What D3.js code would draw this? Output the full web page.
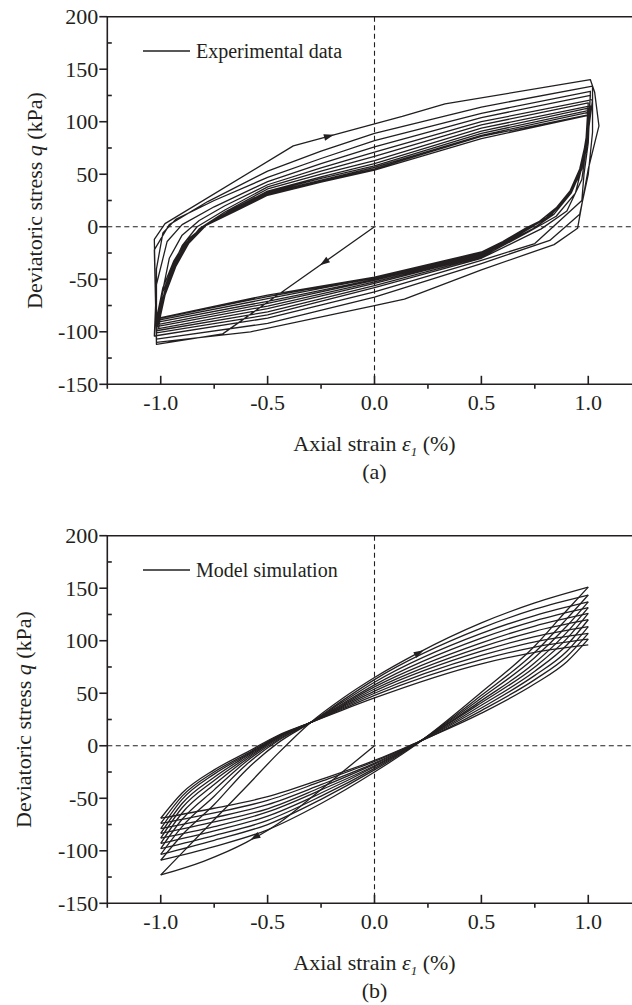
<!DOCTYPE html>
<html>
<head>
<meta charset="utf-8">
<script src="https://cdn.jsdelivr.net/npm/d3@7"></script>
<style>
  html, body { margin: 0; padding: 0; background: #ffffff; }
  svg { display: block; }
  text { font-family: "Liberation Serif", "Times New Roman", serif; fill: #231f20; }
</style>
</head>
<body>
<svg id="chart" width="632" height="1005"></svg>
<script>
// ---------------- data ----------------
const strainTicks = [-1.0, -0.5, 0.0, 0.5, 1.0];
const strainMinor = [-1.25, -0.75, -0.25, 0.25, 0.75, 1.25];
const stressTicks = [-150, -100, -50, 0, 50, 100, 150, 200];
const stressMinor = [-125, -75, -25, 25, 75, 125, 175];
const strainTickLabels = ["-1.0", "-0.5", "0.0", "0.5", "1.0"];
const stressTickLabels = ["-150", "-100", "-50", "0", "50", "100", "150", "200"];

// (a) experimental data: initial loading, then upper (loading) and lower (unloading) branches
const expInitial = [[0,0],[-0.71,-102],[-1.02,-112]];
const expUpper = [
  [[-1.02,-112],[-1.03,-12],[-0.98,3],[-0.38,77],[0,98],[0.13,105],[0.33,117],[1.01,140]],
  [[-1.02,-110],[-1.03,-22],[-0.96,2],[-0.78,24],[-0.5,53],[-0.25,72],[0,89],[0.5,114],[1.02,134]],
  [[-1.02,-107],[-1.02,-40],[-0.99,-6],[-0.93,7],[-0.75,25],[-0.5,47],[-0.25,65],[0,82],[0.5,108],[1.01,129]],
  [[-1.03,-104],[-1.02,-55],[-0.97,-14],[-0.9,2],[-0.75,19],[-0.5,43],[-0.25,60],[0,76],[0.5,104],[1.01,125]],
  [[-1.02,-101],[-1.0,-70],[-0.96,-30],[-0.9,-8],[-0.82,6],[-0.7,20],[-0.5,40],[-0.25,56],[0,71],[0.5,100],[1.02,121]],
  [[-1.02,-99],[-1.0,-75],[-0.95,-40],[-0.9,-18],[-0.83,0],[-0.7,16],[-0.5,38],[-0.25,53],[0,67],[0.5,97],[1.0,118]],
  [[-1.01,-97],[-0.99,-70],[-0.95,-45],[-0.9,-22],[-0.82,-2],[-0.7,14],[-0.5,36],[-0.25,50],[0,63],[0.5,94],[1.01,115]],
  [[-1.02,-95],[-0.99,-68],[-0.94,-40],[-0.88,-18],[-0.8,0],[-0.68,15],[-0.5,34],[-0.25,47.5],[0,60],[0.5,91],[1.0,113]],
  [[-1.01,-93],[-0.98,-65],[-0.93,-38],[-0.87,-16],[-0.79,1],[-0.67,15],[-0.5,33],[-0.25,46],[0,58],[0.5,89],[1.01,111]],
  [[-1.02,-91],[-0.99,-62],[-0.94,-36],[-0.88,-15],[-0.8,0],[-0.66,15],[-0.5,32],[-0.25,44.5],[0,56.5],[0.5,87],[1.0,109]],
  [[-1.01,-89],[-0.98,-60],[-0.93,-34],[-0.87,-14],[-0.79,1],[-0.65,15],[-0.5,31],[-0.25,43.5],[0,55],[0.5,86],[1.01,107]],
  [[-1.02,-88],[-0.99,-58],[-0.94,-33],[-0.88,-13],[-0.8,0],[-0.66,14],[-0.5,30],[-0.25,42.5],[0,54],[0.5,84],[1.0,106]]
];
const expLower = [
  [[1.01,140],[1.03,128],[1.05,96],[1.0,55],[0.95,-1.5],[0.84,-17],[0.5,-41],[0.14,-69],[0,-75],[-0.58,-100],[-1.02,-110]],
  [[1.02,134],[1.02,90],[1.0,50],[0.96,12],[0.82,-13],[0.5,-35],[0,-67],[-0.5,-92],[-1.02,-107]],
  [[1.01,129],[1.0,80],[0.98,50],[0.97,25],[0.75,-16],[0.5,-32],[0,-62],[-0.5,-87],[-1.03,-104]],
  [[1.01,125],[0.99,75],[0.97,45],[0.9,15],[0.78,-2],[0.5,-30],[0,-58],[-0.5,-84],[-1.02,-101]],
  [[1.02,121],[1.0,90],[0.98,65],[0.94,32],[0.85,10],[0.72,-5],[0.5,-29],[0,-56],[-0.5,-81],[-1.02,-99]],
  [[1.0,118],[0.99,85],[0.97,60],[0.93,38],[0.85,18],[0.74,0],[0.5,-28],[0,-54],[-0.5,-78],[-1.01,-97]],
  [[1.01,115],[1.0,85],[0.97,55],[0.92,32],[0.84,12],[0.74,-2],[0.6,-17],[0.5,-27],[0,-52.5],[-0.5,-75.5],[-1.02,-95]],
  [[1.0,113],[0.99,82],[0.96,55],[0.91,32],[0.83,12],[0.73,-1],[0.6,-16],[0.5,-26],[0,-51],[-0.5,-73],[-1.01,-93]],
  [[1.01,111],[0.99,80],[0.96,52],[0.91,30],[0.82,10],[0.72,-2],[0.6,-15],[0.5,-25.5],[0,-50],[-0.5,-71],[-1.02,-91]],
  [[1.0,109],[0.99,78],[0.96,50],[0.9,28],[0.81,9],[0.73,0],[0.6,-15],[0.5,-25],[0,-49],[-0.5,-68.5],[-1.01,-89]],
  [[1.01,107],[0.99,75],[0.95,48],[0.9,28],[0.8,8],[0.72,-1],[0.6,-14],[0.5,-24.5],[0,-48.5],[-0.5,-66.5],[-1.02,-88]],
  [[1.0,106],[0.99,72],[0.95,45],[0.89,25],[0.8,8],[0.71,-1],[0.6,-14],[0.5,-24],[0,-48],[-0.5,-65],[-1.01,-87]]
];
const expArrows = [ { tip: [-0.255,-36.6], from: [0,0] }, { tip: [-0.19,87.5], from: [-0.38,77] } ];

// (b) model simulation
const simInitial = [[0,0],[-0.15,-25],[-0.3,-50],[-0.45,-74],[-0.6,-92],[-0.8,-110],[-1,-123]];
const simUpper = [
  [[-1,-123],[-0.9,-102],[-0.75,-70.5],[-0.6,-39],[-0.45,-7],[-0.3,22],[-0.15,45],[0,65],[0.2,88],[0.5,117],[0.75,136],[1,151]],
  [[-1,-109],[-0.9,-85],[-0.75,-56],[-0.6,-23],[-0.45,3],[-0.3,22],[-0.15,43],[0,63],[0.5,112],[0.75,130],[1,143.5]],
  [[-1,-103.5],[-0.9,-77],[-0.75,-48],[-0.6,-18],[-0.45,5],[-0.3,22],[-0.15,41.5],[0,60.5],[0.5,107],[0.75,124],[1,137]],
  [[-1,-98],[-0.9,-70],[-0.75,-42],[-0.6,-15],[-0.45,6],[-0.3,22],[-0.15,40],[0,58],[0.5,102.5],[0.75,119],[1,131.5]],
  [[-1,-93],[-0.9,-64],[-0.75,-37],[-0.6,-13],[-0.45,7],[-0.3,22],[-0.15,39],[0,56],[0.5,98],[0.75,114],[1,126]],
  [[-1,-88],[-0.9,-59],[-0.75,-33],[-0.6,-11.5],[-0.45,8],[-0.3,22],[-0.15,38],[0,54],[0.5,94],[0.75,109],[1,120]],
  [[-1,-83.5],[-0.9,-55],[-0.75,-30],[-0.6,-10],[-0.45,8.5],[-0.3,22],[-0.15,37],[0,52],[0.5,90],[0.75,104],[1,113.5]],
  [[-1,-79],[-0.9,-51],[-0.75,-27],[-0.6,-9],[-0.45,9],[-0.3,22],[-0.15,36],[0,50],[0.5,86],[0.75,99],[1,107]],
  [[-1,-74],[-0.9,-48],[-0.75,-25],[-0.6,-8],[-0.45,9.5],[-0.3,22],[-0.15,35],[0,48],[0.5,82],[0.75,94],[1,101.5]],
  [[-1,-69],[-0.9,-45],[-0.75,-23],[-0.6,-6.5],[-0.45,10],[-0.3,22],[-0.15,34],[0,45.5],[0.5,78],[0.75,89],[1,96]]
];
const simLower = [
  [[1,151],[0.9,129],[0.75,95],[0.5,51],[0.18,-1],[0,-25],[-0.25,-55],[-0.5,-80],[-0.75,-96],[-1,-109]],
  [[1,143.5],[0.9,121],[0.75,89],[0.5,48],[0.18,-0.5],[0,-23],[-0.25,-51],[-0.5,-75],[-0.75,-90],[-1,-103.5]],
  [[1,137],[0.9,114],[0.75,84],[0.5,45.5],[0.18,0],[0,-21.5],[-0.25,-48],[-0.5,-71],[-0.75,-85.5],[-1,-98]],
  [[1,131.5],[0.9,108],[0.75,79],[0.5,43],[0.18,0],[0,-20],[-0.25,-45],[-0.5,-67],[-0.75,-81],[-1,-93]],
  [[1,126],[0.9,102],[0.75,75],[0.5,41],[0.18,0.5],[0,-19],[-0.25,-42],[-0.5,-63],[-0.75,-77],[-1,-88]],
  [[1,120],[0.9,96],[0.75,71],[0.5,38.5],[0.18,0.5],[0,-17.5],[-0.25,-39.5],[-0.5,-60],[-0.75,-72.5],[-1,-83.5]],
  [[1,113.5],[0.9,90],[0.75,67],[0.5,36],[0.18,1],[0,-16.5],[-0.25,-37],[-0.5,-56],[-0.75,-68.5],[-1,-79]],
  [[1,107],[0.9,85],[0.75,63],[0.5,33.5],[0.18,1],[0,-15],[-0.25,-34],[-0.5,-52],[-0.75,-64],[-1,-74]],
  [[1,101.5],[0.9,80],[0.75,59],[0.5,31],[0.18,1.5],[0,-14],[-0.25,-32],[-0.5,-48.5],[-0.75,-59.5],[-1,-69]]
];
const simArrows = [ { tip: [-0.58,-89.6], from: [-0.45,-74] }, { tip: [0.23,90.9], from: [0.05,71] } ];

// ---------------- layout ----------------
const INK = "#231f20";
const FONT = 22;
const panels = [
  { top: 16.7, bottom: 384.3, legend: "Experimental data", caption: "(a)", ylabelX: 42, kind: "exp" },
  { top: 535.7, bottom: 903.3, legend: "Model simulation", caption: "(b)", ylabelX: 31, kind: "sim" }
];
const xLeft = 107.3, xRight = 641.7;

const svg = d3.select("#chart");

function drawArrow(g, x, y, a) {
  const px = x(a.tip[0]), py = y(a.tip[1]);
  const qx = x(a.from[0]), qy = y(a.from[1]);
  let dx = px - qx, dy = py - qy;
  const len = Math.hypot(dx, dy); dx /= len; dy /= len;
  const L = 10, w = 3.3;
  const bx = px - dx * L, by = py - dy * L;
  g.append("path")
    .attr("d", `M${px},${py}L${bx - dy * w},${by + dx * w}L${bx + dy * w},${by - dx * w}Z`)
    .attr("fill", INK).attr("stroke", "none");
}

panels.forEach(p => {
  const x = d3.scaleLinear().domain([-1.25, 1.25]).range([xLeft, xRight]);
  const y = d3.scaleLinear().domain([-150, 200]).range([p.bottom, p.top]);
  const g = svg.append("g");

  // dashed reference lines
  g.append("line").attr("x1", x(-1.25)).attr("x2", x(1.25)).attr("y1", y(0)).attr("y2", y(0))
    .attr("stroke", INK).attr("stroke-width", 1.1).attr("stroke-dasharray", "5,3.5");
  g.append("line").attr("x1", x(0)).attr("x2", x(0)).attr("y1", y(200)).attr("y2", y(-150))
    .attr("stroke", INK).attr("stroke-width", 1.1).attr("stroke-dasharray", "5,3.5");

  // data
  const dg = g.append("g").attr("fill", "none").attr("stroke", INK).attr("stroke-width", 1.3)
    .attr("stroke-linejoin", "round");
  if (p.kind === "exp") {
    const line = d3.line().x(d => x(d[0])).y(d => y(d[1]));
    let all = expInitial.slice();
    expUpper.forEach((u, i) => {
      all = all.concat(u);
      if (expLower[i]) all = all.concat(expLower[i]);
    });
    dg.append("path").attr("d", line(all));
    expArrows.forEach(a => drawArrow(g, x, y, a));
  } else {
    const curve = d3.line().curve(d3.curveMonotoneX).x(d => x(d[0])).y(d => y(d[1]));
    const sorted = arr => arr.slice().sort((a, b) => a[0] - b[0]);
    dg.append("path").attr("d", curve(sorted(simInitial)));
    simUpper.forEach(u => dg.append("path").attr("d", curve(sorted(u))));
    simLower.forEach(l => dg.append("path").attr("d", curve(sorted(l))));
    simArrows.forEach(a => drawArrow(g, x, y, a));
  }

  // frame
  const fg = g.append("g").attr("stroke", INK).attr("stroke-width", 1.6).attr("fill", "none");
  fg.append("path").attr("d", `M${x(1.25)},${y(200)}H${x(-1.25)}V${y(-150)}H${x(1.25)}V${y(200)}`);

  // y ticks: major outward, minor inward
  stressTicks.forEach(v => fg.append("line").attr("x1", x(-1.25) - 8).attr("x2", x(-1.25)).attr("y1", y(v)).attr("y2", y(v)));
  stressMinor.forEach(v => fg.append("line").attr("x1", x(-1.25)).attr("x2", x(-1.25) + 4.5).attr("y1", y(v)).attr("y2", y(v)));
  // x ticks: major inward, minor outward
  strainTicks.forEach(v => fg.append("line").attr("x1", x(v)).attr("x2", x(v)).attr("y1", y(-150)).attr("y2", y(-150) - 8.5));
  strainMinor.forEach(v => fg.append("line").attr("x1", x(v)).attr("x2", x(v)).attr("y1", y(-150)).attr("y2", y(-150) + 4.5));

  // tick labels
  stressTicks.forEach((v, i) => g.append("text").attr("x", x(-1.25) - 9).attr("y", y(v) + 7.6)
    .attr("text-anchor", "end").attr("font-size", FONT).text(stressTickLabels[i]));
  strainTicks.forEach((v, i) => g.append("text").attr("x", x(v)).attr("y", y(-150) + 25.7)
    .attr("text-anchor", "middle").attr("font-size", FONT).text(strainTickLabels[i]));

  // x title
  const xt = g.append("text").attr("x", x(0)).attr("y", y(-150) + 66.7)
    .attr("text-anchor", "middle").attr("font-size", FONT);
  xt.append("tspan").text("Axial strain ");
  xt.append("tspan").attr("font-style", "italic").text("ε");
  xt.append("tspan").attr("font-style", "italic").attr("font-size", 13).attr("dy", 5).text("1");
  xt.append("tspan").attr("dy", -5).text(" (%)");

  // caption
  g.append("text").attr("x", x(0)).attr("y", y(-150) + 94.7).attr("text-anchor", "middle")
    .attr("font-size", FONT).text(p.caption);

  // y title
  const yc = (y(200) + y(-150)) / 2;
  const yt = g.append("text").attr("transform", `translate(${p.ylabelX},${yc}) rotate(-90)`)
    .attr("text-anchor", "middle").attr("font-size", FONT);
  yt.append("tspan").text("Deviatoric stress ");
  yt.append("tspan").attr("font-style", "italic").text("q");
  yt.append("tspan").text(" (kPa)");

  // legend
  g.append("line").attr("x1", 143).attr("x2", 190).attr("y1", y(200) + 34.3).attr("y2", y(200) + 34.3)
    .attr("stroke", INK).attr("stroke-width", 1.3);
  g.append("text").attr("x", 196).attr("y", y(200) + 41).attr("font-size", 20).text(p.legend);
});
</script>
</body>
</html>
